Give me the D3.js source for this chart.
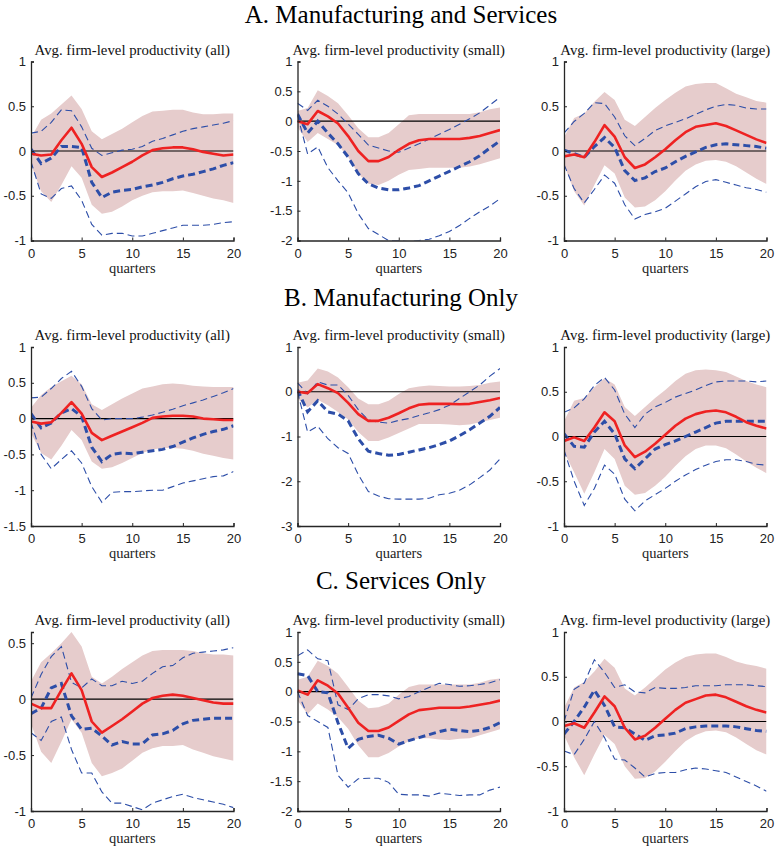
<!DOCTYPE html>
<html>
<head>
<meta charset="utf-8">
<script src="https://cdn.jsdelivr.net/npm/d3@7"></script>
<style>
  body { margin: 0; background: #fff; }
  svg { display: block; }
  .sect { font-family: "Liberation Serif", "Times New Roman", serif; font-size: 25px; fill: #000; }
  .ptitle { font-family: "Liberation Serif", "DejaVu Serif", serif; font-size: 14.8px; fill: #111; }
  .xlab { font-family: "Liberation Serif", serif; font-size: 14.5px; fill: #222; }
  .tick text { font-family: "Liberation Sans", Arial, sans-serif; font-size: 13px; fill: #222; }
</style>
</head>
<body>
<svg id="fig" width="775" height="848"></svg>
<script>
// Horizon (quarters after the shock)
const quarters = d3.range(0, 21);

const sectionTitles = ["A. Manufacturing and Services", "B. Manufacturing Only", "C. Services Only"];
const panelTitles = ["Avg. firm-level productivity (all)", "Avg. firm-level productivity (small)", "Avg. firm-level productivity (large)"];
const xTicks = [0, 5, 10, 15, 20];

// y-axis ranges and ticks per panel (row-major)
const yDomains = [
  [-1, 1], [-2, 1], [-1, 1],
  [-1.5, 1], [-3, 1], [-1, 1],
  [-1, 0.6], [-2, 1], [-1, 1]
];
const yTicks = [
  [-1, -0.5, 0, 0.5, 1], [-2, -1.5, -1, -0.5, 0, 0.5, 1], [-1, -0.5, 0, 0.5, 1],
  [-1.5, -1, -0.5, 0, 0.5, 1], [-3, -2, -1, 0, 1], [-1, -0.5, 0, 0.5, 1],
  [-1, -0.5, 0, 0.5], [-2, -1.5, -1, -0.5, 0, 0.5, 1], [-1, -0.5, 0, 0.5, 1]
];

// Point response (red)
const irf = [
  [-0.03,-0.05,-0.04,0.12,0.26,0.08,-0.18,-0.29,-0.24,-0.18,-0.12,-0.05,0.01,0.03,0.04,0.04,0.02,-0.01,-0.03,-0.05,-0.04],
  [0.0,-0.05,0.17,0.08,-0.04,-0.25,-0.5,-0.67,-0.67,-0.6,-0.48,-0.38,-0.32,-0.3,-0.3,-0.3,-0.3,-0.28,-0.25,-0.2,-0.15],
  [-0.06,-0.04,-0.07,0.1,0.29,0.16,-0.07,-0.19,-0.15,-0.07,0.02,0.12,0.21,0.27,0.29,0.31,0.28,0.23,0.18,0.13,0.09],
  [-0.04,-0.07,-0.05,0.08,0.23,0.07,-0.2,-0.3,-0.24,-0.18,-0.12,-0.06,0.01,0.03,0.04,0.04,0.03,0.0,-0.01,-0.02,-0.02],
  [0.0,-0.03,0.17,0.08,-0.03,-0.25,-0.5,-0.65,-0.65,-0.58,-0.48,-0.37,-0.29,-0.27,-0.27,-0.27,-0.28,-0.27,-0.23,-0.19,-0.14],
  [-0.05,-0.01,-0.05,0.1,0.27,0.17,-0.1,-0.23,-0.17,-0.08,0.02,0.12,0.2,0.25,0.28,0.29,0.27,0.22,0.16,0.12,0.09],
  [-0.04,-0.08,-0.08,0.08,0.23,0.08,-0.2,-0.3,-0.24,-0.18,-0.11,-0.04,0.01,0.03,0.04,0.03,0.01,-0.01,-0.03,-0.04,-0.04],
  [0.02,-0.05,0.19,0.1,-0.03,-0.27,-0.52,-0.66,-0.66,-0.6,-0.49,-0.38,-0.31,-0.29,-0.27,-0.27,-0.27,-0.25,-0.22,-0.19,-0.15],
  [-0.05,-0.02,-0.07,0.1,0.28,0.17,-0.07,-0.2,-0.16,-0.07,0.03,0.13,0.21,0.25,0.29,0.3,0.27,0.22,0.17,0.13,0.1]
];

// Confidence band, upper edge
const bandHi = [
  [0.15,0.35,0.42,0.52,0.62,0.47,0.22,0.13,0.19,0.25,0.32,0.39,0.44,0.45,0.46,0.46,0.43,0.41,0.41,0.42,0.42],
  [0.17,0.22,0.52,0.42,0.3,0.1,-0.12,-0.27,-0.27,-0.2,-0.05,0.1,0.12,0.12,0.12,0.12,0.12,0.12,0.15,0.2,0.23],
  [0.15,0.37,0.42,0.55,0.66,0.57,0.35,0.28,0.38,0.48,0.57,0.65,0.72,0.75,0.76,0.76,0.7,0.64,0.6,0.56,0.54],
  [0.15,0.33,0.44,0.52,0.6,0.48,0.2,0.12,0.2,0.28,0.35,0.42,0.45,0.48,0.49,0.48,0.46,0.45,0.44,0.44,0.44],
  [0.2,0.25,0.52,0.45,0.32,0.1,-0.15,-0.28,-0.28,-0.2,-0.05,0.08,0.12,0.14,0.13,0.12,0.12,0.13,0.15,0.2,0.23],
  [0.17,0.4,0.43,0.55,0.65,0.58,0.33,0.23,0.33,0.43,0.52,0.62,0.7,0.74,0.75,0.74,0.72,0.67,0.62,0.58,0.55],
  [0.16,0.33,0.41,0.5,0.6,0.47,0.2,0.14,0.2,0.27,0.33,0.39,0.43,0.44,0.44,0.44,0.43,0.41,0.4,0.4,0.39],
  [0.2,0.25,0.52,0.43,0.3,0.08,-0.15,-0.28,-0.26,-0.2,-0.05,0.08,0.12,0.12,0.12,0.12,0.12,0.12,0.15,0.2,0.22],
  [0.15,0.38,0.44,0.56,0.7,0.6,0.37,0.29,0.38,0.48,0.58,0.66,0.72,0.75,0.76,0.76,0.72,0.67,0.64,0.62,0.59]
];

// Confidence band, lower edge
const bandLo = [
  [-0.15,-0.45,-0.57,-0.38,-0.17,-0.3,-0.6,-0.7,-0.68,-0.62,-0.55,-0.5,-0.46,-0.45,-0.45,-0.44,-0.47,-0.5,-0.53,-0.55,-0.58],
  [-0.1,-0.35,-0.2,-0.3,-0.4,-0.6,-0.88,-1.05,-1.07,-1.0,-0.9,-0.82,-0.8,-0.78,-0.78,-0.78,-0.78,-0.76,-0.72,-0.67,-0.62],
  [-0.15,-0.45,-0.61,-0.38,-0.16,-0.25,-0.52,-0.63,-0.62,-0.55,-0.45,-0.33,-0.22,-0.15,-0.11,-0.1,-0.12,-0.17,-0.24,-0.31,-0.37],
  [-0.2,-0.48,-0.57,-0.38,-0.16,-0.3,-0.6,-0.7,-0.68,-0.62,-0.55,-0.48,-0.43,-0.41,-0.41,-0.42,-0.45,-0.49,-0.52,-0.55,-0.57],
  [-0.15,-0.35,-0.18,-0.3,-0.45,-0.62,-0.9,-1.1,-1.1,-1.02,-0.92,-0.82,-0.72,-0.72,-0.72,-0.73,-0.75,-0.73,-0.68,-0.63,-0.58],
  [-0.17,-0.4,-0.64,-0.4,-0.14,-0.25,-0.55,-0.65,-0.63,-0.55,-0.45,-0.33,-0.22,-0.14,-0.1,-0.1,-0.13,-0.2,-0.28,-0.35,-0.41],
  [-0.22,-0.47,-0.57,-0.38,-0.18,-0.3,-0.57,-0.69,-0.66,-0.62,-0.55,-0.48,-0.44,-0.42,-0.42,-0.41,-0.45,-0.48,-0.51,-0.53,-0.55],
  [-0.15,-0.38,-0.2,-0.3,-0.43,-0.62,-0.9,-1.1,-1.1,-1.03,-0.92,-0.83,-0.78,-0.78,-0.8,-0.81,-0.79,-0.78,-0.73,-0.68,-0.63],
  [-0.15,-0.4,-0.6,-0.37,-0.15,-0.25,-0.5,-0.64,-0.63,-0.56,-0.45,-0.33,-0.22,-0.15,-0.11,-0.1,-0.12,-0.18,-0.25,-0.32,-0.37]
];

// Alternative estimate (thick blue dashed)
const altIrf = [
  [0.02,-0.14,-0.08,0.05,0.05,0.04,-0.35,-0.52,-0.46,-0.44,-0.43,-0.4,-0.38,-0.35,-0.31,-0.28,-0.26,-0.23,-0.2,-0.16,-0.13],
  [0.12,-0.2,0.0,-0.2,-0.38,-0.6,-0.88,-1.05,-1.12,-1.15,-1.15,-1.12,-1.08,-1.0,-0.92,-0.84,-0.76,-0.68,-0.58,-0.45,-0.33],
  [0.01,-0.03,-0.07,0.05,0.15,0.04,-0.22,-0.33,-0.3,-0.23,-0.19,-0.12,-0.06,-0.01,0.04,0.07,0.08,0.07,0.06,0.05,0.03],
  [0.07,-0.13,-0.06,0.08,0.14,0.03,-0.4,-0.6,-0.5,-0.48,-0.49,-0.47,-0.45,-0.43,-0.39,-0.33,-0.27,-0.22,-0.18,-0.15,-0.1],
  [0.05,-0.45,-0.2,-0.45,-0.5,-0.65,-1.05,-1.33,-1.38,-1.42,-1.4,-1.35,-1.3,-1.25,-1.18,-1.1,-0.98,-0.85,-0.7,-0.55,-0.35],
  [0.03,-0.11,-0.12,0.05,0.17,0.03,-0.25,-0.36,-0.25,-0.14,-0.09,-0.05,0.0,0.05,0.1,0.15,0.17,0.17,0.17,0.17,0.17],
  [-0.13,-0.08,0.1,0.14,-0.15,-0.27,-0.26,-0.33,-0.41,-0.38,-0.4,-0.4,-0.32,-0.31,-0.28,-0.22,-0.19,-0.18,-0.17,-0.17,-0.17],
  [0.3,0.27,0.0,-0.02,-0.52,-0.95,-0.8,-0.75,-0.73,-0.78,-0.88,-0.82,-0.77,-0.72,-0.67,-0.63,-0.65,-0.67,-0.65,-0.6,-0.52],
  [-0.14,0.0,0.16,0.35,0.18,-0.06,-0.07,-0.14,-0.21,-0.16,-0.15,-0.13,-0.08,-0.06,-0.05,-0.05,-0.05,-0.06,-0.08,-0.1,-0.11]
];

// Alternative estimate, upper bound (thin blue dashed)
const altHi = [
  [0.2,0.22,0.32,0.46,0.45,0.27,0.03,-0.05,-0.02,0.01,0.02,0.05,0.11,0.14,0.18,0.22,0.25,0.27,0.29,0.31,0.34],
  [0.3,0.18,0.35,0.25,0.12,-0.05,-0.22,-0.4,-0.45,-0.5,-0.52,-0.45,-0.38,-0.3,-0.22,-0.14,-0.05,0.04,0.14,0.27,0.4],
  [0.2,0.33,0.42,0.54,0.53,0.38,0.17,0.06,0.14,0.23,0.28,0.32,0.36,0.41,0.46,0.5,0.52,0.51,0.48,0.47,0.47],
  [0.29,0.3,0.42,0.56,0.66,0.45,0.14,-0.02,0.0,0.0,0.0,0.02,0.05,0.09,0.13,0.18,0.22,0.26,0.31,0.36,0.42],
  [0.2,-0.05,0.22,0.15,0.15,-0.08,-0.4,-0.63,-0.68,-0.7,-0.64,-0.6,-0.53,-0.47,-0.4,-0.3,-0.15,0.0,0.15,0.35,0.52],
  [0.27,0.32,0.42,0.57,0.66,0.52,0.25,0.1,0.25,0.33,0.38,0.44,0.48,0.52,0.57,0.61,0.62,0.62,0.62,0.61,0.62],
  [0.01,0.22,0.38,0.47,0.15,0.1,0.18,0.12,0.12,0.16,0.14,0.16,0.23,0.29,0.3,0.37,0.41,0.42,0.43,0.44,0.46],
  [0.6,0.7,0.55,0.52,-0.22,-0.3,-0.12,-0.05,-0.05,-0.07,-0.12,-0.08,0.0,0.07,0.14,0.12,0.09,0.1,0.12,0.15,0.2],
  [0.0,0.36,0.43,0.69,0.55,0.38,0.41,0.33,0.32,0.38,0.37,0.37,0.38,0.4,0.4,0.4,0.41,0.41,0.41,0.4,0.39]
];

// Alternative estimate, lower bound (thin blue dashed)
const altLo = [
  [-0.12,-0.48,-0.53,-0.42,-0.39,-0.55,-0.82,-0.94,-0.92,-0.92,-0.95,-0.95,-0.92,-0.89,-0.86,-0.83,-0.83,-0.83,-0.82,-0.8,-0.79],
  [0.1,-0.55,-0.43,-0.78,-1.0,-1.2,-1.55,-1.8,-1.9,-2.0,-2.0,-2.02,-2.0,-1.98,-1.92,-1.85,-1.75,-1.63,-1.52,-1.42,-1.3],
  [-0.15,-0.42,-0.58,-0.43,-0.27,-0.36,-0.6,-0.76,-0.71,-0.68,-0.64,-0.56,-0.48,-0.4,-0.34,-0.32,-0.35,-0.38,-0.41,-0.43,-0.46],
  [-0.05,-0.5,-0.7,-0.57,-0.45,-0.62,-0.95,-1.17,-1.03,-1.02,-1.02,-1.01,-1.0,-1.0,-0.95,-0.9,-0.87,-0.84,-0.81,-0.8,-0.74],
  [0.0,-0.9,-0.77,-1.05,-1.25,-1.38,-1.85,-2.23,-2.33,-2.39,-2.4,-2.4,-2.4,-2.38,-2.3,-2.27,-2.2,-2.08,-1.92,-1.75,-1.5],
  [-0.15,-0.5,-0.77,-0.58,-0.32,-0.42,-0.7,-0.83,-0.72,-0.65,-0.58,-0.5,-0.43,-0.37,-0.32,-0.28,-0.26,-0.26,-0.28,-0.31,-0.32],
  [-0.3,-0.37,-0.2,-0.16,-0.45,-0.66,-0.66,-0.83,-0.93,-0.93,-0.96,-0.99,-0.93,-0.9,-0.87,-0.85,-0.88,-0.9,-0.92,-0.94,-0.97],
  [0.0,-0.4,-0.5,-0.6,-1.4,-1.6,-1.46,-1.45,-1.45,-1.52,-1.72,-1.73,-1.73,-1.75,-1.7,-1.72,-1.74,-1.73,-1.73,-1.65,-1.6],
  [-0.33,-0.37,-0.2,0.0,-0.18,-0.42,-0.43,-0.52,-0.62,-0.58,-0.57,-0.57,-0.54,-0.52,-0.53,-0.55,-0.57,-0.62,-0.67,-0.72,-0.78]
];

// ---- layout ----
const colLeft = [31, 297.5, 564];
const plotW = 202.5;
const rowTop = [61.5, 347, 632];
const plotH = 179;
const sectionY = [23, 306, 589];

const svg = d3.select("#fig");

const fmt = v => {
  if (v === 0) return "0";
  const s = String(Math.abs(v));
  return (v < 0 ? "-" : "") + s;
};

sectionTitles.forEach((t, r) => {
  svg.append("text").attr("class", "sect")
    .attr("x", 401).attr("y", sectionY[r])
    .attr("text-anchor", "middle").text(t);
});

for (let r = 0; r < 3; r++) {
  for (let c = 0; c < 3; c++) {
    const i = r * 3 + c;
    const g = svg.append("g").attr("transform", `translate(${colLeft[c]},${rowTop[r]})`);
    const x = d3.scaleLinear().domain([0, 20]).range([0, plotW]);
    const y = d3.scaleLinear().domain(yDomains[i]).range([plotH, 0]);

    const clipId = "clip" + i;
    g.append("clipPath").attr("id", clipId).append("rect")
      .attr("x", 0).attr("y", 0).attr("width", plotW).attr("height", plotH);
    const body = g.append("g").attr("clip-path", `url(#${clipId})`);

    // shaded band
    const area = d3.area()
      .x((d, k) => x(quarters[k]))
      .y0((d, k) => y(bandLo[i][k]))
      .y1((d, k) => y(bandHi[i][k]));
    body.append("path").datum(quarters).attr("d", area)
      .attr("fill", "#e6cccc").attr("stroke", "none");

    const line = arr => d3.line().x((d, k) => x(quarters[k])).y(d => y(d))(arr);

    // zero line
    body.append("line").attr("x1", x(0)).attr("x2", x(20))
      .attr("y1", y(0)).attr("y2", y(0))
      .attr("stroke", "#000").attr("stroke-width", 1.2);

    // thin dashed bounds
    [altHi[i], altLo[i]].forEach(a => {
      body.append("path").attr("d", line(a))
        .attr("fill", "none").attr("stroke", "#2d4ea8")
        .attr("stroke-width", 1.1).attr("stroke-dasharray", "7,4");
    });

    // thick dashed alternative
    body.append("path").attr("d", line(altIrf[i]))
      .attr("fill", "none").attr("stroke", "#2d4ea8")
      .attr("stroke-width", 3).attr("stroke-dasharray", "7,4");

    // red point response
    body.append("path").attr("d", line(irf[i]))
      .attr("fill", "none").attr("stroke", "#ee2222")
      .attr("stroke-width", 2.6).attr("stroke-linejoin", "round");

    // axes
    const xAxis = d3.axisBottom(x).tickValues(xTicks).tickSize(-3).tickPadding(6).tickFormat(d3.format("d"));
    const gx = g.append("g").attr("transform", `translate(0,${plotH})`).call(xAxis);
    const yAxis = d3.axisLeft(y).tickValues(yTicks[i]).tickSize(-3).tickPadding(5).tickFormat(fmt);
    const gy = g.append("g").call(yAxis);
    [gx, gy].forEach(a => {
      a.select(".domain").attr("stroke", "#262626").attr("stroke-width", 1.3);
      a.selectAll(".tick line").attr("stroke", "#262626");
    });
    gx.selectAll(".tick text").attr("dy", "0.85em");

    g.append("text").attr("class", "ptitle")
      .attr("x", plotW / 2).attr("y", -7).attr("text-anchor", "middle")
      .text(panelTitles[c]);
    g.append("text").attr("class", "xlab")
      .attr("x", plotW / 2).attr("y", plotH + 32).attr("text-anchor", "middle")
      .text("quarters");
  }
}
</script>
</body>
</html>
